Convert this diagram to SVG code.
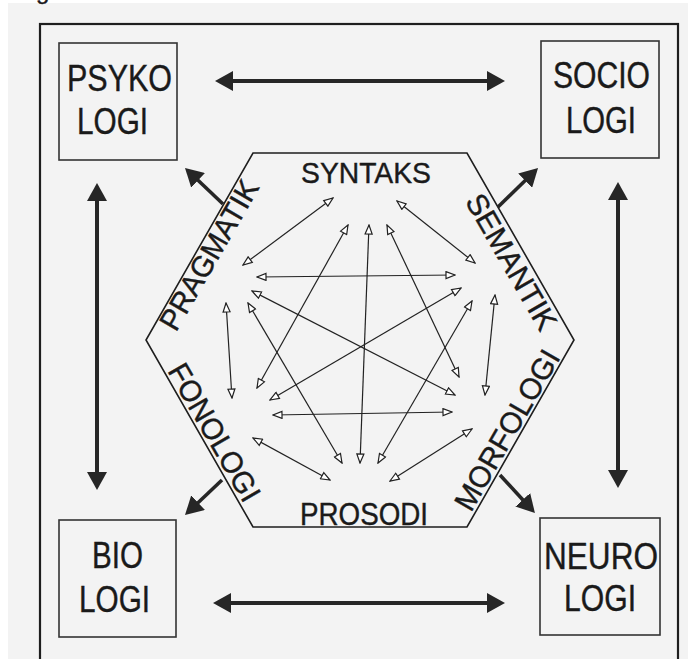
<svg xmlns="http://www.w3.org/2000/svg" width="688" height="659" viewBox="0 0 688 659">
<style>
.bg{fill:#f3f3f3}
.frame{fill:none;stroke:#1e1e1e;stroke-width:2.2}
.box{fill:none;stroke:#333;stroke-width:1.6}
.hex{fill:none;stroke:#1e1e1e;stroke-width:1.6}
.t{font-family:"Liberation Sans",Arial,sans-serif;fill:#1a1a1a;stroke:#1a1a1a;stroke-width:0.4}
.bt{font-size:36px}
.ht{font-size:30px}
.thin{fill:none;stroke:#222;stroke-width:1.2;marker-start:url(#oa);marker-end:url(#oa)}
.thick2{fill:none;stroke:#262626;stroke-width:4;marker-start:url(#ta);marker-end:url(#ta)}
.thick1{fill:none;stroke:#262626;stroke-width:3.6;marker-end:url(#ta)}
</style>
<defs>
<marker id="oa" viewBox="0 0 11 9" refX="10" refY="4.5" markerWidth="11" markerHeight="9" markerUnits="userSpaceOnUse" orient="auto-start-reverse">
<path d="M1,1 L10,4.5 L1,8 Z" fill="#fff" stroke="#222" stroke-width="1.2" stroke-linejoin="miter"/>
</marker>
<marker id="ta" viewBox="0 0 18 20" refX="3" refY="10" markerWidth="18" markerHeight="20" markerUnits="userSpaceOnUse" orient="auto-start-reverse">
<path d="M0,0 L18,10 L0,20 Z" fill="#262626"/>
</marker>
</defs>
<rect x="0" y="0" width="688" height="659" fill="#ffffff"/>
<rect class="bg" x="8" y="3" width="680" height="656"/>
<text class="t" x="36" y="-1" font-size="24">g</text>
<rect class="frame" x="40" y="24" width="638" height="650"/>

<g id="psykologi">
<rect class="box" x="59" y="43" width="118" height="117"/>
<text class="t bt" x="67" y="91" textLength="105" lengthAdjust="spacingAndGlyphs">PSYKO</text>
<text class="t bt" x="77" y="134" textLength="71" lengthAdjust="spacingAndGlyphs">LOGI</text>
</g>
<g id="sociologi">
<rect class="box" x="541" y="41" width="118" height="117"/>
<text class="t bt" x="553" y="88" textLength="97" lengthAdjust="spacingAndGlyphs">SOCIO</text>
<text class="t bt" x="566" y="133" textLength="70" lengthAdjust="spacingAndGlyphs">LOGI</text>
</g>
<g id="biologi">
<rect class="box" x="59" y="520" width="117" height="117"/>
<text class="t bt" x="92" y="568" textLength="51" lengthAdjust="spacingAndGlyphs">BIO</text>
<text class="t bt" x="79" y="612" textLength="71" lengthAdjust="spacingAndGlyphs">LOGI</text>
</g>
<g id="neurologi">
<rect class="box" x="540" y="518" width="120" height="117"/>
<text class="t bt" x="544" y="569" textLength="114" lengthAdjust="spacingAndGlyphs">NEURO</text>
<text class="t bt" x="564" y="611" textLength="72" lengthAdjust="spacingAndGlyphs">LOGI</text>
</g>

<g id="hexagon">
<polygon class="hex" points="253,153 467,153 574,340 467,527 253,527 146,340"/>
</g>
<g id="syntaks"><text class="t" font-size="30" x="301" y="183" textLength="130" lengthAdjust="spacingAndGlyphs">SYNTAKS</text></g>
<g id="prosodi"><text class="t" font-size="31" x="300" y="525" textLength="128" lengthAdjust="spacingAndGlyphs">PROSODI</text></g>
<g id="pragmatik"><text class="t ht" text-anchor="middle" transform="translate(218,260) rotate(-60)" textLength="168" lengthAdjust="spacingAndGlyphs">PRAGMATIK</text></g>
<g id="semantik"><text class="t ht" text-anchor="middle" transform="translate(502.5,267) rotate(60)" textLength="152" lengthAdjust="spacingAndGlyphs">SEMANTIK</text></g>
<g id="fonologi"><text class="t ht" text-anchor="middle" transform="translate(205.5,437.5) rotate(60)" textLength="154" lengthAdjust="spacingAndGlyphs">FONOLOGI</text></g>
<g id="morfologi"><text class="t ht" text-anchor="middle" transform="translate(516,435) rotate(-60)" textLength="180" lengthAdjust="spacingAndGlyphs">MORFOLOGI</text></g>

<g id="connectors">
<line class="thick2" x1="230" y1="81" x2="490" y2="81"/>
<line class="thick2" x1="228" y1="603" x2="490" y2="603"/>
<line class="thick2" x1="97" y1="198" x2="97" y2="475"/>
<line class="thick2" x1="618" y1="197" x2="618" y2="473"/>
<line class="thick1" x1="223" y1="204" x2="195.9" y2="178.3"/>
<line class="thick1" x1="498" y1="207" x2="527.3" y2="178.5"/>
<line class="thick1" x1="222" y1="480" x2="195.9" y2="504.7"/>
<line class="thick1" x1="500" y1="475" x2="524.8" y2="502"/>

<line class="thin" x1="333" y1="198" x2="243" y2="265"/>
<line class="thin" x1="397" y1="201" x2="475" y2="263"/>
<line class="thin" x1="348" y1="225" x2="257" y2="388"/>
<line class="thin" x1="369" y1="225" x2="360" y2="463"/>
<line class="thin" x1="387" y1="225" x2="459" y2="377"/>
<line class="thin" x1="257" y1="277" x2="455" y2="275"/>
<line class="thin" x1="252" y1="291" x2="455" y2="395"/>
<line class="thin" x1="248" y1="303" x2="342" y2="463"/>
<line class="thin" x1="226" y1="303" x2="232" y2="398"/>
<line class="thin" x1="461" y1="288" x2="270" y2="400"/>
<line class="thin" x1="472" y1="301" x2="378" y2="463"/>
<line class="thin" x1="495" y1="295" x2="485" y2="395"/>
<line class="thin" x1="273" y1="415" x2="452" y2="412"/>
<line class="thin" x1="253" y1="438" x2="330" y2="480"/>
<line class="thin" x1="472" y1="429" x2="390" y2="481"/>
</g>
</svg>
